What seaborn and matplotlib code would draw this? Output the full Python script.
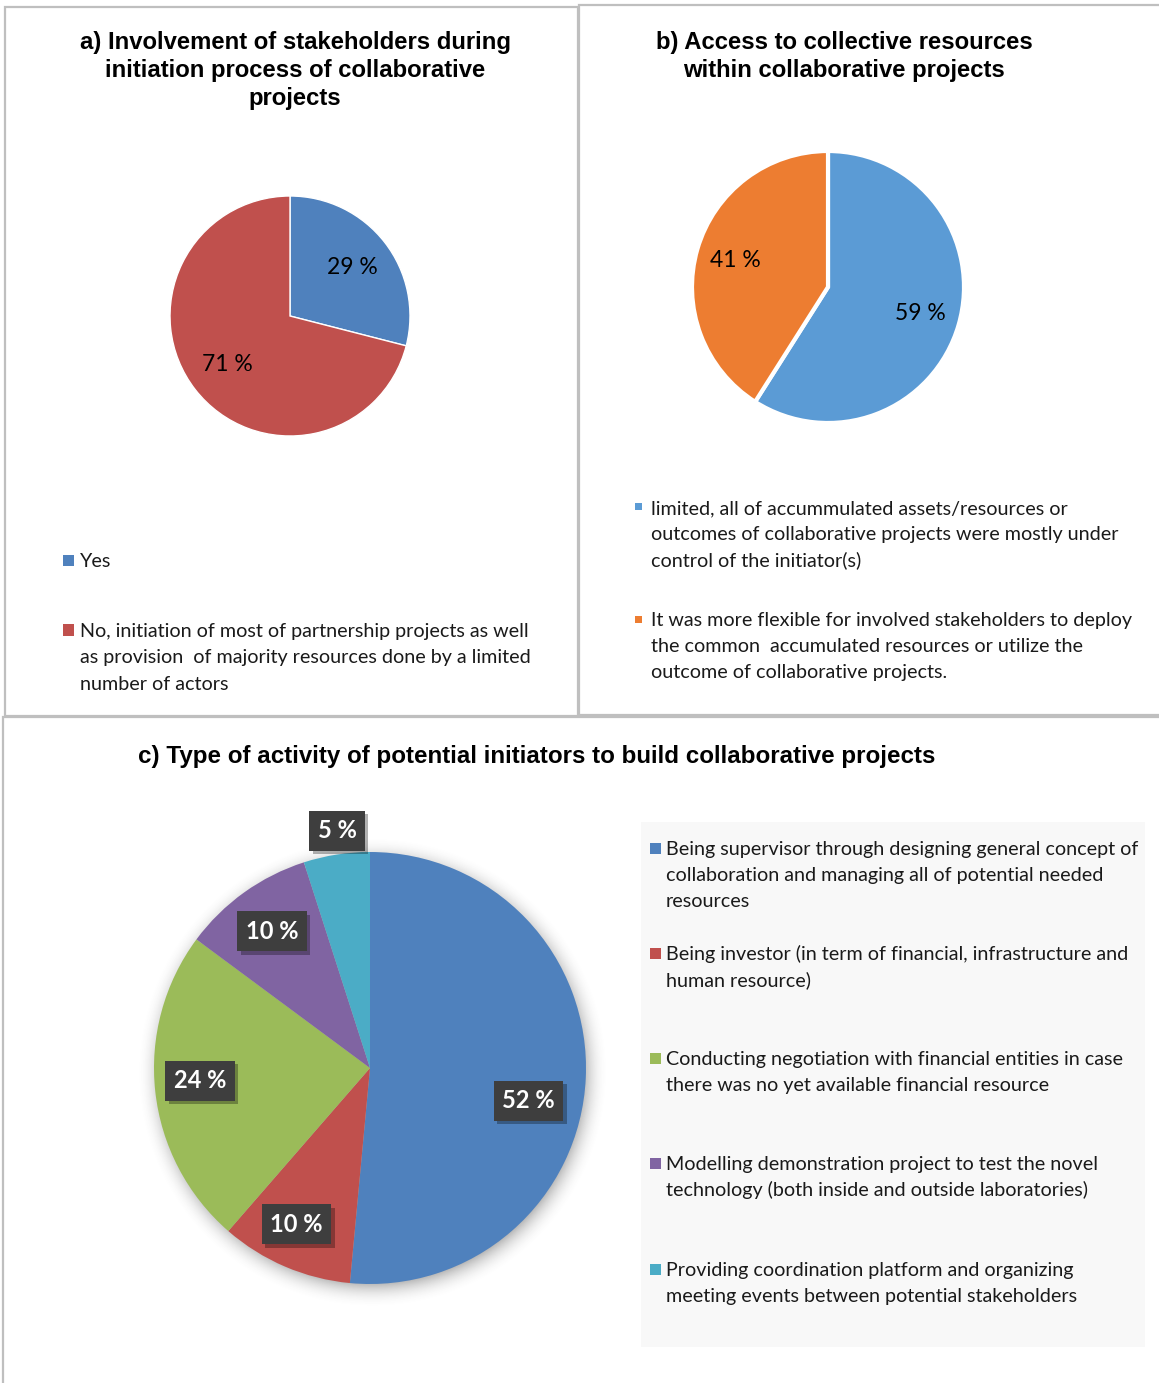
import numpy as np
import matplotlib
matplotlib.use("Agg")
import matplotlib.pyplot as plt
import matplotlib.patheffects as pe
from matplotlib.patches import Rectangle
import seaborn as sns

# ---- data -------------------------------------------------------------
title_a = "a) Involvement of stakeholders during\ninitiation process of collaborative\nprojects"
labels_a = [
    "Yes",
    "No, initiation of most of partnership projects as well\nas provision  of majority resources done by a limited\nnumber of actors",
]
values_a = [29, 71]
colors_a = ["#4F81BD", "#C0504D"]

title_b = "b) Access to collective resources\nwithin collaborative projects"
labels_b = [
    "limited, all of accummulated assets/resources or\noutcomes of collaborative projects were mostly under\ncontrol of the initiator(s)",
    "It was more flexible for involved stakeholders to deploy\nthe common  accumulated resources or utilize the\noutcome of collaborative projects.",
]
values_b = [59, 41]
colors_b = ["#5B9BD5", "#ED7D31"]

title_c = "c) Type of activity of potential initiators to build collaborative projects"
labels_c = [
    "Being supervisor through designing general concept of\ncollaboration and managing all of potential needed\nresources",
    "Being investor (in term of financial, infrastructure and\nhuman resource)",
    "Conducting negotiation with financial entities in case\nthere was no yet available financial resource",
    "Modelling demonstration project to test the novel\ntechnology (both inside and outside laboratories)",
    "Providing coordination platform and organizing\nmeeting events between potential stakeholders",
]
values_c = [52, 10, 24, 10, 5]
colors_c = ["#4F81BD", "#C0504D", "#9BBB59", "#8064A2", "#4BACC6"]

# ---- figure setup -----------------------------------------------------
sns.set_theme(style="white")
plt.rcParams["font.family"] = ["Liberation Sans", "DejaVu Sans"]

W, H = 1159, 1383
fig = plt.figure(figsize=(W / 100, H / 100), dpi=100)
fig.patch.set_facecolor("white")

TITLE_FONT = ["Liberation Sans", "DejaVu Sans"]
BODY_FONT = ["Lato", "DejaVu Sans"]
TITLE_SIZE = 17.2
BODY_SIZE = 14.2


def fx(x):
    return x / W


def fy(y):
    return 1 - y / H


def panel_box(x0, y0, x1, y1):
    fig.patches.append(Rectangle((fx(x0), fy(y1)), fx(x1 - x0), (y1 - y0) / H,
                                 transform=fig.transFigure, fill=False,
                                 edgecolor="#BFBFBF", linewidth=1.6, zorder=0))


def title(xc, y_first, text, pitch=28, size=TITLE_SIZE):
    for j, line in enumerate(text.split("\n")):
        fig.text(fx(xc), fy(y_first + j * pitch + 8.5), line, ha="center",
                 va="baseline", fontsize=size, fontweight="bold",
                 family=TITLE_FONT, color="black")


def pie_axes(cx, cy, r, lim=1.3):
    half = r * lim
    return fig.add_axes([fx(cx - half), fy(cy + half), 2 * half / W, 2 * half / H])


def finish(ax, lim=1.3):
    ax.set_xlim(-lim, lim)
    ax.set_ylim(-lim, lim)
    ax.set_aspect("equal")
    ax.axis("off")


def legend(x_sq, x_txt, y_rows, labels, colors, sq, pitch):
    for y0, lab, col in zip(y_rows, labels, colors):
        fig.patches.append(Rectangle((fx(x_sq), fy(y0 + sq / 2)), sq / W, sq / H,
                                     transform=fig.transFigure, facecolor=col,
                                     edgecolor="none", zorder=3))
        for j, line in enumerate(lab.split("\n")):
            fig.text(fx(x_txt), fy(y0 + j * pitch + 7), line, fontsize=BODY_SIZE,
                     family=BODY_FONT, color="#1a1a1a", ha="left", va="baseline")


# ---- panel frames -----------------------------------------------------
panel_box(5, 7, 578, 716)
panel_box(579, 5, 1162, 715)
panel_box(3, 717, 1162, 1386)

# ---- panel a ----------------------------------------------------------
title(295, 40, title_a)
ax_a = pie_axes(290, 316, 120)
ax_a.pie(values_a, colors=colors_a, startangle=90, counterclock=False,
         autopct="%.0f %%", pctdistance=0.66,
         textprops=dict(fontsize=16.5, family=BODY_FONT, color="black"))
finish(ax_a)
legend(63, 80, [560, 630], labels_a, colors_a, 11, 26.5)

# ---- panel b ----------------------------------------------------------
title(844, 40, title_b)
ax_b = pie_axes(828, 287, 136)
ax_b.pie(values_b, colors=colors_b, startangle=90, counterclock=False,
         autopct="%.0f %%", pctdistance=0.71,
         wedgeprops=dict(edgecolor="white", linewidth=3),
         textprops=dict(fontsize=16.5, family=BODY_FONT, color="black"))
finish(ax_b)
legend(635, 651, [507, 619], labels_b, colors_b, 7, 26.2)

# ---- panel c ----------------------------------------------------------
title(537, 755, title_c, size=17.4)

ax_c = pie_axes(370, 1068, 216, lim=1.3)
# soft shadow around the pie
g = np.linspace(-1.3, 1.3, 700)
gx, gy = np.meshgrid(g, g)
rr = np.hypot(gx - 0.012, gy + 0.02)
alpha = 0.42 * np.clip(1 - (rr - 0.975) / 0.12, 0, 1) ** 2.2
shadow = np.zeros((700, 700, 4))
shadow[..., :3] = 0.3
shadow[..., 3] = alpha
ax_c.imshow(shadow, extent=(-1.3, 1.3, -1.3, 1.3), origin="lower",
            interpolation="bilinear", zorder=0)
wedges, _ = ax_c.pie(values_c, colors=colors_c, startangle=90, counterclock=False,
                     wedgeprops=dict(linewidth=0, edgecolor="none"))
for w in wedges:
    w.set_zorder(2)
finish(ax_c)

label_dist = [0.75, 0.80, 0.79, 0.78, 1.11]
label_nudge = [-9, -2, -2, 0, -1]
for w, v, d, nd in zip(wedges, values_c, label_dist, label_nudge):
    ang = np.deg2rad((w.theta1 + w.theta2) / 2 + nd)
    t = ax_c.text(d * np.cos(ang), d * np.sin(ang), f"{v} %", ha="center", va="center",
                  fontsize=17, fontweight="bold", family=BODY_FONT, color="white",
                  zorder=5,
                  bbox=dict(boxstyle="square,pad=0.36", facecolor="#3E3E3E",
                            edgecolor="none", linewidth=0))
    t.get_bbox_patch().set_path_effects(
        [pe.SimplePatchShadow(offset=(2.5, -2.5), shadow_rgbFace="black", alpha=0.3),
         pe.Normal()])

# legend panel for c
fig.patches.append(Rectangle((fx(641), fy(1347)), 504 / W, 525 / H,
                             transform=fig.transFigure, facecolor="#F8F8F8",
                             edgecolor="none", zorder=1))
legend(650, 666, [848, 953, 1058, 1163, 1269], labels_c, colors_c, 11, 26.2)

fig.savefig("out.png", dpi=100, facecolor="white")
